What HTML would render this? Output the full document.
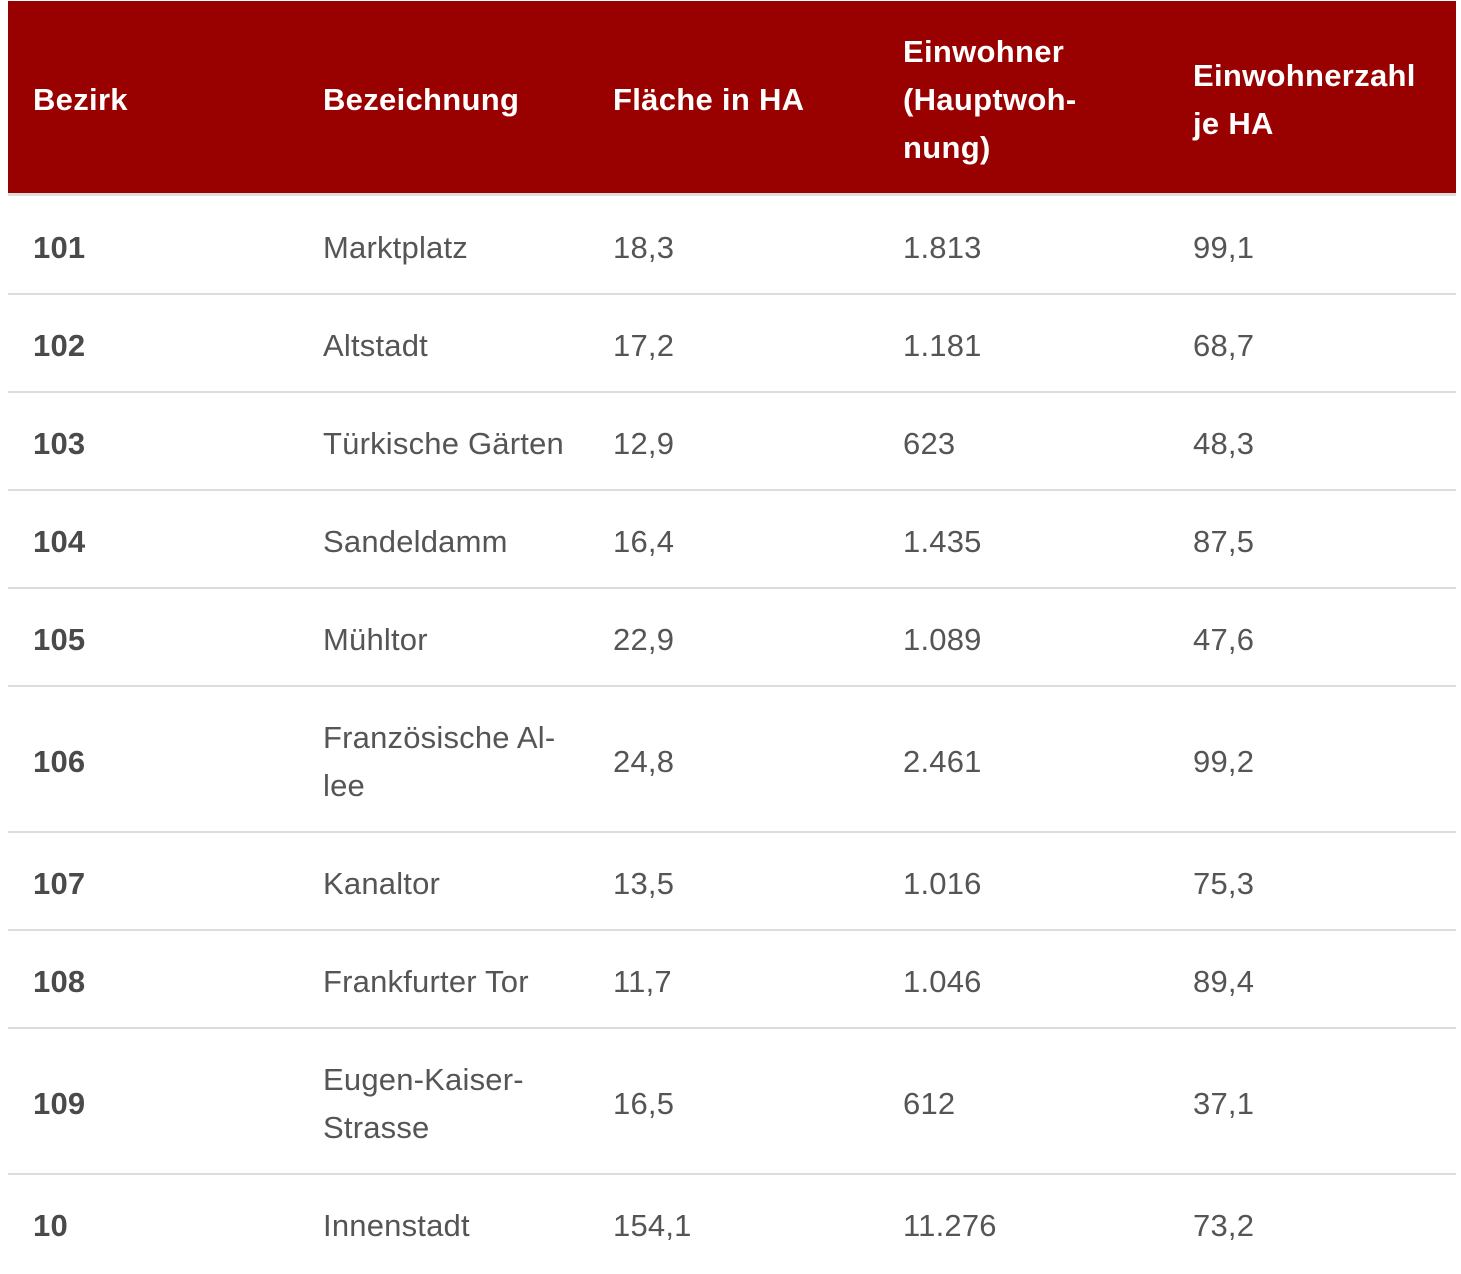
<!DOCTYPE html>
<html>
<head>
<meta charset="utf-8">
<style>
html,body{margin:0;padding:0;background:#fff;}
body{width:1461px;height:1274px;position:relative;overflow:hidden;font-family:"Liberation Sans",Arial,sans-serif;}
.hdr{position:absolute;left:8px;top:1px;width:1448px;height:192px;background:#990000;}
.hb{position:absolute;left:8px;top:193px;width:1448px;height:3px;background:#dddddd;}
.rb{position:absolute;left:8px;width:1448px;height:2px;background:#dddddd;}
.t{position:absolute;font-size:31px;line-height:48px;height:48px;white-space:nowrap;color:#555;letter-spacing:0.2px;}
.h{color:#fff;font-weight:bold;letter-spacing:0.3px;}
.b{font-weight:bold;color:#4a4a4a;}
</style>
</head>
<body>
<div class="hdr"></div>
<div class="hb"></div>

<div class="t h" style="left:33px;top:76px">Bezirk</div>
<div class="t h" style="left:323px;top:76px">Bezeichnung</div>
<div class="t h" style="left:613px;top:76px">Fläche in HA</div>
<div class="t h" style="left:903px;top:28px">Einwohner</div>
<div class="t h" style="left:903px;top:76px">(Hauptwoh-</div>
<div class="t h" style="left:903px;top:124px">nung)</div>
<div class="t h" style="left:1193px;top:52px">Einwohnerzahl</div>
<div class="t h" style="left:1193px;top:100px">je HA</div>

<!-- row 1 -->
<div class="t b" style="left:33px;top:224px">101</div>
<div class="t" style="left:323px;top:224px">Marktplatz</div>
<div class="t" style="left:613px;top:224px">18,3</div>
<div class="t" style="left:903px;top:224px">1.813</div>
<div class="t" style="left:1193px;top:224px">99,1</div>
<div class="rb" style="top:293px"></div>

<!-- row 2 -->
<div class="t b" style="left:33px;top:322px">102</div>
<div class="t" style="left:323px;top:322px">Altstadt</div>
<div class="t" style="left:613px;top:322px">17,2</div>
<div class="t" style="left:903px;top:322px">1.181</div>
<div class="t" style="left:1193px;top:322px">68,7</div>
<div class="rb" style="top:391px"></div>

<!-- row 3 -->
<div class="t b" style="left:33px;top:420px">103</div>
<div class="t" style="left:323px;top:420px">Türkische Gärten</div>
<div class="t" style="left:613px;top:420px">12,9</div>
<div class="t" style="left:903px;top:420px">623</div>
<div class="t" style="left:1193px;top:420px">48,3</div>
<div class="rb" style="top:489px"></div>

<!-- row 4 -->
<div class="t b" style="left:33px;top:518px">104</div>
<div class="t" style="left:323px;top:518px">Sandeldamm</div>
<div class="t" style="left:613px;top:518px">16,4</div>
<div class="t" style="left:903px;top:518px">1.435</div>
<div class="t" style="left:1193px;top:518px">87,5</div>
<div class="rb" style="top:587px"></div>

<!-- row 5 -->
<div class="t b" style="left:33px;top:616px">105</div>
<div class="t" style="left:323px;top:616px">Mühltor</div>
<div class="t" style="left:613px;top:616px">22,9</div>
<div class="t" style="left:903px;top:616px">1.089</div>
<div class="t" style="left:1193px;top:616px">47,6</div>
<div class="rb" style="top:685px"></div>

<!-- row 6 -->
<div class="t b" style="left:33px;top:738px">106</div>
<div class="t" style="left:323px;top:714px">Französische Al-</div>
<div class="t" style="left:323px;top:762px">lee</div>
<div class="t" style="left:613px;top:738px">24,8</div>
<div class="t" style="left:903px;top:738px">2.461</div>
<div class="t" style="left:1193px;top:738px">99,2</div>
<div class="rb" style="top:831px"></div>

<!-- row 7 -->
<div class="t b" style="left:33px;top:860px">107</div>
<div class="t" style="left:323px;top:860px">Kanaltor</div>
<div class="t" style="left:613px;top:860px">13,5</div>
<div class="t" style="left:903px;top:860px">1.016</div>
<div class="t" style="left:1193px;top:860px">75,3</div>
<div class="rb" style="top:929px"></div>

<!-- row 8 -->
<div class="t b" style="left:33px;top:958px">108</div>
<div class="t" style="left:323px;top:958px">Frankfurter Tor</div>
<div class="t" style="left:613px;top:958px">11,7</div>
<div class="t" style="left:903px;top:958px">1.046</div>
<div class="t" style="left:1193px;top:958px">89,4</div>
<div class="rb" style="top:1027px"></div>

<!-- row 9 -->
<div class="t b" style="left:33px;top:1080px">109</div>
<div class="t" style="left:323px;top:1056px">Eugen-Kaiser-</div>
<div class="t" style="left:323px;top:1104px">Strasse</div>
<div class="t" style="left:613px;top:1080px">16,5</div>
<div class="t" style="left:903px;top:1080px">612</div>
<div class="t" style="left:1193px;top:1080px">37,1</div>
<div class="rb" style="top:1173px"></div>

<!-- row 10 -->
<div class="t b" style="left:33px;top:1202px">10</div>
<div class="t" style="left:323px;top:1202px">Innenstadt</div>
<div class="t" style="left:613px;top:1202px">154,1</div>
<div class="t" style="left:903px;top:1202px">11.276</div>
<div class="t" style="left:1193px;top:1202px">73,2</div>
</body>
</html>
